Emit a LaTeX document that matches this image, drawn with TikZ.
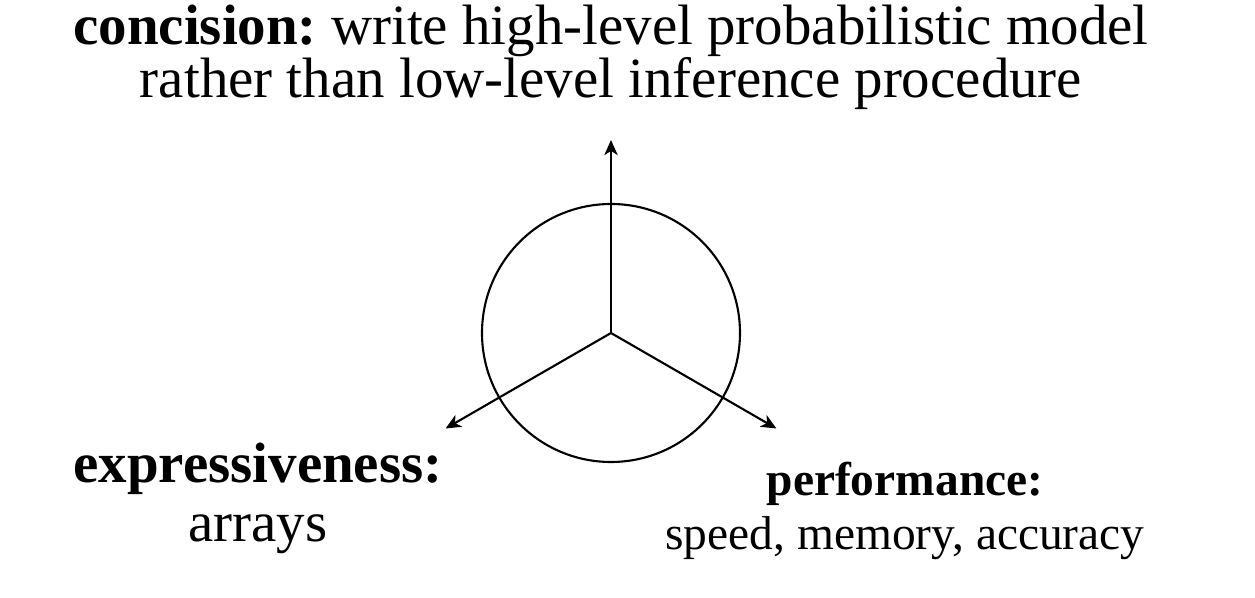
\documentclass[tikz,border=0pt]{standalone}
\usepackage{fontspec}
\setmainfont{Liberation Serif}
\usepackage{tikz}
\usetikzlibrary{arrows.meta, positioning, calc}

\tikzset{
    goal/.style={align=center, inner sep=0pt, anchor=base},
    axis/.style={-{Stealth[length=4.3pt, width=3.8pt, inset=1.2pt]}, line width=0.6pt}
}

\begin{document}
\frenchspacing
\begin{tikzpicture}
        \useasboundingbox (0, 0) rectangle (12.55, 5.98);
        \coordinate (c) at (6.11, 2.65);
        \draw[line width=0.6pt] (c) circle (1.29);

        \coordinate (up) at ($(c)+(90:1.93)$);
        \coordinate (lft) at ($(c)+(210:1.91)$);
        \coordinate (rgt) at ($(c)+(330:1.91)$);
        \draw[axis] (c) -- (up);
        \draw[axis] (c) -- (lft);
        \draw[axis] (c) -- (rgt);

        % base anchor sits on the last line
        \node[goal, font=\fontsize{16.2}{15.1}\selectfont] (concision) at (6.11, 5.00)
            {\textbf{concision:} write high-level probabilistic model\\rather than low-level inference procedure};
        \node[goal, font=\fontsize{16.2}{16.8}\selectfont] (express) at (2.58, 0.56)
            {\textbf{expressiveness:}\\arrays};
        \node[goal, font=\fontsize{13.5}{15.6}\selectfont] (perf) at (9.05, 0.48)
            {\textbf{performance:}\\speed, memory, accuracy};
    \end{tikzpicture}
\end{document}
